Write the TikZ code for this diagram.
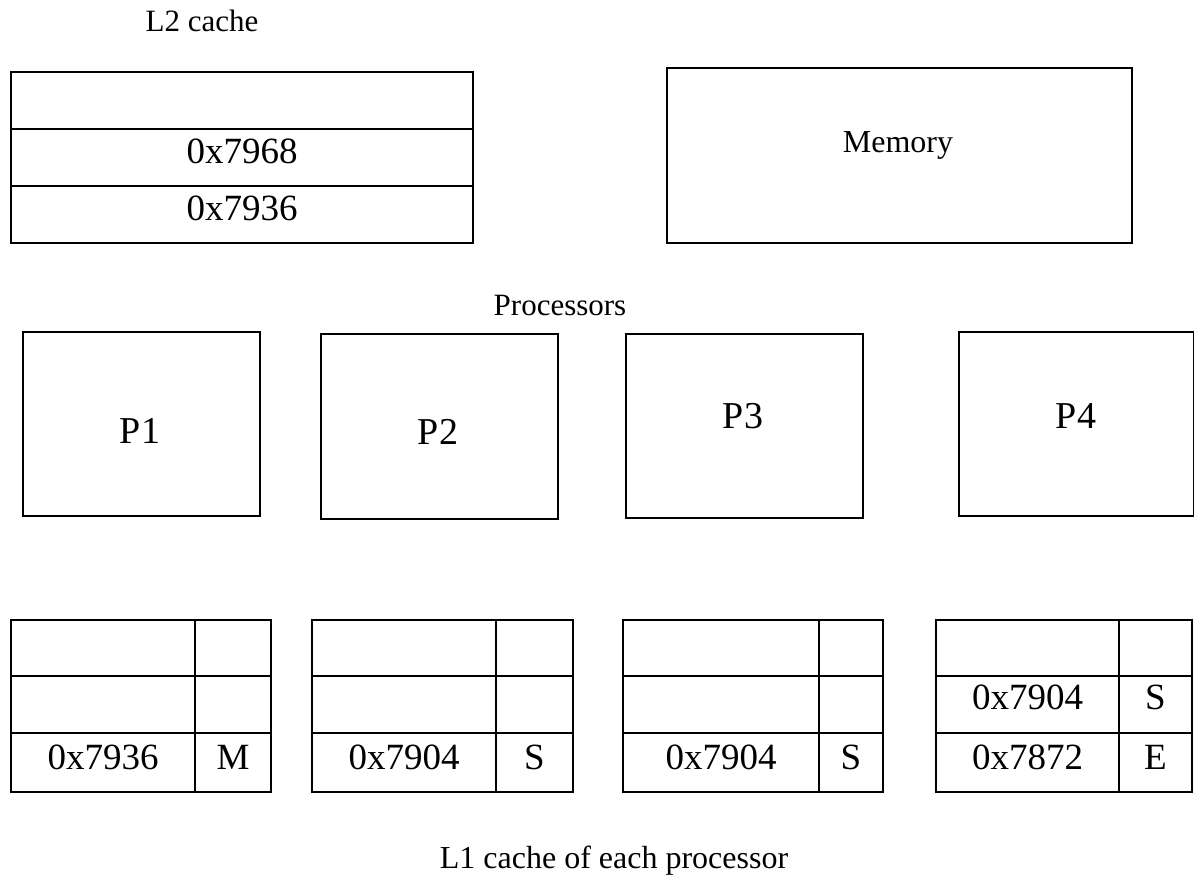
\documentclass[tikz,border=0pt]{standalone}
\usepackage{fontspec}
\setmainfont{Liberation Serif}
\begin{document}
\begin{tikzpicture}[x=1pt,y=-1pt,
  box/.style={draw, line width=2pt, inner sep=0pt, anchor=north west},
  big/.style={font=\fontsize{37}{40}\selectfont, inner sep=0pt, anchor=base},
  plabel/.style={font=\fontsize{38}{40}\selectfont, inner sep=0pt, anchor=base},
  caption/.style={font=\fontsize{#1}{34}\selectfont, inner sep=0pt, anchor=base},
  caption/.default=31]
% an empty rectangular cell: name, left, top, right, bottom
\newcommand\cellnode[5]{%
  \pgfmathsetmacro\cw{#4-#2}\pgfmathsetmacro\ch{#5-#3}%
  \node[box, minimum width=\cw pt, minimum height=\ch pt] (#1) at (#2,#3) {};}
% a cell with its entry set on a baseline near the bottom of the cell
\newcommand\textcell[6]{%
  \cellnode{#1}{#2}{#3}{#4}{#5}%
  \node[big] (#1-txt) at ([yshift=24pt]#1.south) {#6};}
\useasboundingbox (0,0) rectangle (1194,876);

% L2 cache
\node[caption] (l2lbl) at (202,31) {L2 cache};
\cellnode{l2a}{10}{71}{472}{128}
\textcell{l2b}{10}{128}{472}{185}{0x7968}
\textcell{l2c}{10}{185}{472}{242}{0x7936}

% Memory
\cellnode{mem}{666}{67}{1131}{242}
\node[caption=32] (memlbl) at (898,152) {Memory};

% Processors
\node[caption] (proclbl) at (560,315) {Processors};
\cellnode{p1}{22}{331}{259}{515}
\cellnode{p2}{320}{333}{557}{518}
\cellnode{p3}{625}{333}{862}{517}
\cellnode{p4}{958}{331}{1193}{515}
\node[plabel] (p1t) at (140,443) {P1};
\node[plabel] (p2t) at (438,444) {P2};
\node[plabel] (p3t) at (743,428) {P3};
\node[plabel] (p4t) at (1076,428) {P4};

% L1 caches: address column and state column, three lines each
\cellnode{a1}{10}{618.5}{194}{674.5}
\cellnode{a2}{10}{674.5}{194}{731.5}
\textcell{a3}{10}{731.5}{194}{791}{0x7936}
\cellnode{s1}{194}{618.5}{270}{674.5}
\cellnode{s2}{194}{674.5}{270}{731.5}
\textcell{s3}{194}{731.5}{270}{791}{M}

\cellnode{b1}{311}{618.5}{495}{674.5}
\cellnode{b2}{311}{674.5}{495}{731.5}
\textcell{b3}{311}{731.5}{495}{791}{0x7904}
\cellnode{t1}{495}{618.5}{572}{674.5}
\cellnode{t2}{495}{674.5}{572}{731.5}
\textcell{t3}{495}{731.5}{572}{791}{S}

\cellnode{c1}{622}{618.5}{818}{674.5}
\cellnode{c2}{622}{674.5}{818}{731.5}
\textcell{c3}{622}{731.5}{818}{791}{0x7904}
\cellnode{u1}{818}{618.5}{882}{674.5}
\cellnode{u2}{818}{674.5}{882}{731.5}
\textcell{u3}{818}{731.5}{882}{791}{S}

\cellnode{d1}{935}{618.5}{1118}{674.5}
\textcell{d2}{935}{674.5}{1118}{731.5}{0x7904}
\textcell{d3}{935}{731.5}{1118}{791}{0x7872}
\cellnode{v1}{1118}{618.5}{1191}{674.5}
\textcell{v2}{1118}{674.5}{1191}{731.5}{S}
\textcell{v3}{1118}{731.5}{1191}{791}{E}

\node[caption=32] (l1lbl) at (614,868) {L1 cache of each processor};
\end{tikzpicture}
\end{document}
